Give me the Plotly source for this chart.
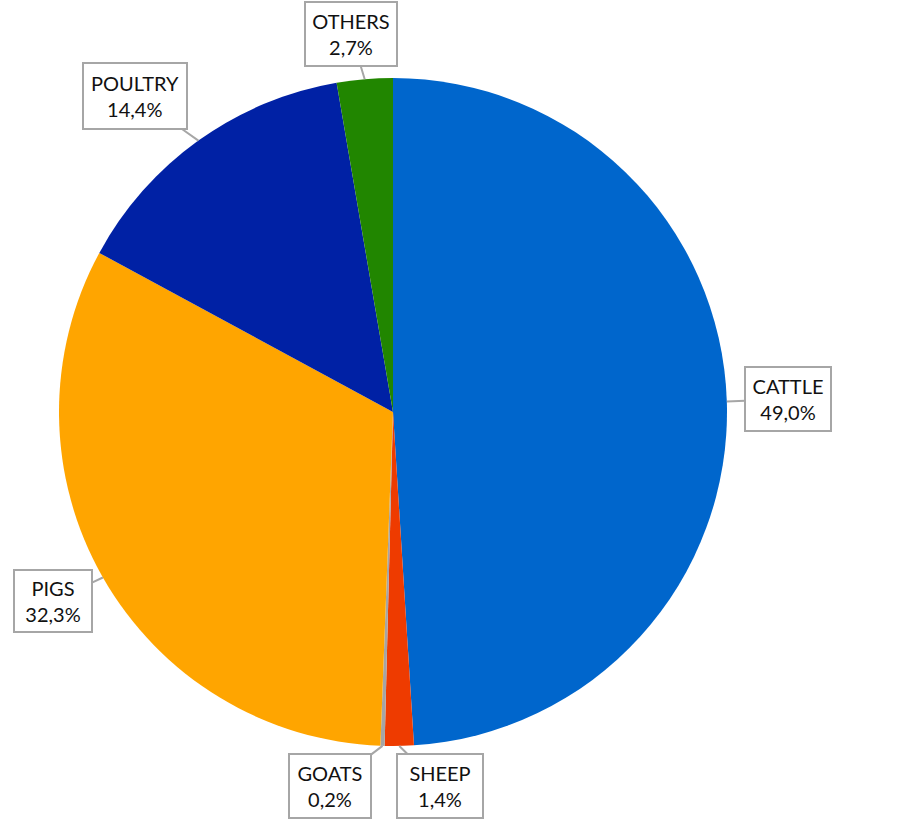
import math
import plotly.graph_objects as go

# Share of livestock units by species (%)
species = ["CATTLE", "SHEEP", "GOATS", "PIGS", "POULTRY", "OTHERS"]
shares = [49.0, 1.4, 0.2, 32.3, 14.4, 2.7]
colors = ["#0066CC", "#EE3B00", "#A5A5A5", "#FFA500", "#0021A5", "#218600"]

W, H = 902, 819
CX, CY, R = 393, 412, 334  # pie centre and radius in pixels (y from top)

# Callout box centres (pixels from top-left) and box sizes
box_centre = {
    "CATTLE": (788, 399),
    "SHEEP": (440, 786),
    "GOATS": (330, 786),
    "PIGS": (53, 601),
    "POULTRY": (135, 96),
    "OTHERS": (351, 34),
}
box_size = {
    "CATTLE": (84, 62),
    "SHEEP": (84, 62),
    "GOATS": (80, 62),
    "PIGS": (76, 60),
    "POULTRY": (102, 64),
    "OTHERS": (90, 62),
}

fig = go.Figure(
    go.Pie(
        labels=species,
        values=shares,
        sort=False,
        direction="clockwise",
        rotation=0,
        marker=dict(colors=colors, line=dict(width=0)),
        textinfo="none",
        hoverinfo="label+percent",
        showlegend=False,
        domain=dict(
            x=[(CX - R) / W, (CX + R) / W],
            y=[1 - (CY + R) / H, 1 - (CY - R) / H],
        ),
    )
)

# Callout labels pointing at the middle of each slice's outer arc
total = sum(shares)
cum = 0.0
annotations = []
for name, val in zip(species, shares):
    mid = (cum + val / 2) / total * 2 * math.pi
    cum += val
    tx = CX + R * math.sin(mid)
    ty = CY - R * math.cos(mid)
    bx, by = box_centre[name]
    bw, bh = box_size[name]
    label = f"{val:.1f}%".replace(".", ",")
    annotations.append(
        dict(
            x=tx / W,
            y=1 - ty / H,
            xref="paper",
            yref="paper",
            ax=bx - tx,
            ay=by - ty,
            axref="pixel",
            ayref="pixel",
            text=f"{name}<br>{label}",
            showarrow=True,
            arrowhead=0,
            arrowwidth=2,
            arrowcolor="#A6A6A6",
            standoff=0,
            bgcolor="white",
            bordercolor="#A6A6A6",
            borderwidth=2,
            borderpad=0,
            width=bw,
            height=bh,
            align="center",
            valign="middle",
            font=dict(family="Lato, Arial, sans-serif", size=20, color="#111111"),
        )
    )

fig.update_layout(
    width=W,
    height=H,
    margin=dict(l=0, r=0, t=0, b=0),
    paper_bgcolor="white",
    plot_bgcolor="white",
    annotations=annotations,
)

fig.write_html("out.html")
